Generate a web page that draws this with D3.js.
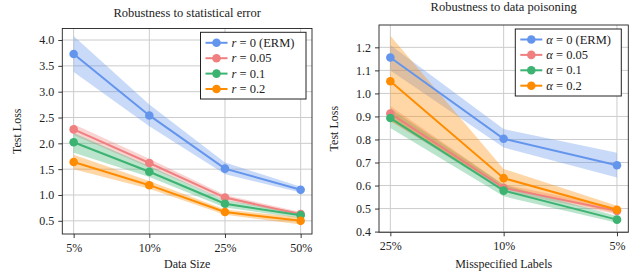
<!DOCTYPE html>
<html><head><meta charset="utf-8">
<script src="https://cdn.jsdelivr.net/npm/d3@7"></script>
<style>
body{margin:0;background:#fff;}
svg{display:block;font-family:"Liberation Serif","DejaVu Serif",serif;}
svg text{font-family:"Liberation Serif","DejaVu Serif",serif;}
</style></head>
<body><svg id="c" width="632" height="273"></svg>
<script>
// ---- data ----
const leftCats = ["5%","10%","25%","50%"];
const leftTicks = [0.5,1.0,1.5,2.0,2.5,3.0,3.5,4.0];
const leftNames = ["0 (ERM)","0.05","0.1","0.2"];
const leftMean = [[3.73,2.54,1.51,1.10],[2.27,1.62,0.95,0.63],[2.02,1.45,0.83,0.61],[1.64,1.19,0.67,0.50]];
const leftLo   = [[3.38,2.33,1.40,1.05],[2.16,1.53,0.90,0.60],[1.82,1.35,0.76,0.55],[1.50,1.12,0.62,0.43]];
const leftHi   = [[4.08,2.75,1.63,1.16],[2.37,1.70,1.00,0.67],[2.20,1.56,0.90,0.66],[1.78,1.27,0.72,0.57]];

const rightCats = ["25%","10%","5%"];
const rightTicks = [0.4,0.5,0.6,0.7,0.8,0.9,1.0,1.1,1.2];
const rightNames = ["0 (ERM)","0.05","0.1","0.2"];
const rightMean = [[1.156,0.803,0.688],[0.913,0.590,0.490],[0.893,0.578,0.452],[1.053,0.632,0.495]];
const rightLo   = [[1.10,0.765,0.635],[0.88,0.575,0.475],[0.85,0.553,0.438],[0.88,0.590,0.480]];
const rightHi   = [[1.21,0.845,0.742],[0.945,0.605,0.505],[0.935,0.603,0.468],[1.25,0.672,0.512]];

const colors = ["#6495ED","#F08080","#3CB371","#FF8C00"];

const svg = d3.select("#c");
const FONT = "Liberation Serif";

function panel(cfg){
  const {x0,x1,y0,y1,cats,ticks,tickFmt,dom,mean,lo,hi,names,sym,title,titleY,xlabel,legend,pad} = cfg;
  const x = d3.scalePoint().domain(cats).range([x0,x1]).padding(pad);
  const y = d3.scaleLinear().domain(dom).range([y1,y0]);
  const g = svg.append("g");
  // grid
  g.selectAll(".gy").data(ticks).enter().append("line")
    .attr("x1",x0).attr("x2",x1).attr("y1",d=>y(d)).attr("y2",d=>y(d))
    .attr("stroke","#cccccc").attr("stroke-width",1);
  g.selectAll(".gx").data(cats).enter().append("line")
    .attr("x1",d=>x(d)).attr("x2",d=>x(d)).attr("y1",y0).attr("y2",y1)
    .attr("stroke","#cccccc").attr("stroke-width",1);
  // bands
  mean.forEach((m,i)=>{
    const area = d3.area().x((d,j)=>x(cats[j])).y0((d,j)=>y(lo[i][j])).y1((d,j)=>y(hi[i][j]));
    g.append("path").attr("d",area(m)).attr("fill",colors[i]).attr("fill-opacity",0.35);
  });
  // lines
  mean.forEach((m,i)=>{
    const line = d3.line().x((d,j)=>x(cats[j])).y(d=>y(d));
    g.append("path").attr("d",line(m)).attr("fill","none").attr("stroke",colors[i]).attr("stroke-width",2);
    g.selectAll(null).data(m).enter().append("circle")
      .attr("cx",(d,j)=>x(cats[j])).attr("cy",d=>y(d)).attr("r",4.3).attr("fill",colors[i]);
  });
  // axes
  const ax = g.append("g").attr("transform",`translate(0,${y1})`).call(d3.axisBottom(x).tickSize(4).tickPadding(5));
  const ay = g.append("g").attr("transform",`translate(${x0},0)`).call(d3.axisLeft(y).tickValues(ticks).tickFormat(tickFmt).tickSize(4).tickPadding(4));
  [ax,ay].forEach(a=>{a.attr("font-family",FONT); a.select(".domain").remove(); a.selectAll("text").attr("font-size",12).attr("fill","#222"); a.selectAll("line").attr("stroke","#222").attr("stroke-width",0.9);});
  g.append("rect").attr("x",x0).attr("y",y0).attr("width",x1-x0).attr("height",y1-y0)
    .attr("fill","none").attr("stroke","#222").attr("stroke-width",0.9);
  // title & labels
  g.append("text").attr("x",(x0+x1)/2).attr("y",titleY).attr("text-anchor","middle").attr("font-size",12.5).attr("fill","#222").text(title);
  g.append("text").attr("x",(x0+x1)/2).attr("y",268).attr("text-anchor","middle").attr("font-size",12).attr("fill","#222").text(xlabel);
  g.append("text").attr("transform",`translate(${x0-41},${(y0+y1)/2}) rotate(-90)`).attr("text-anchor","middle").attr("font-size",12).attr("fill","#222").text("Test Loss");
  // legend
  const L = legend;
  g.append("rect").attr("x",L.x).attr("y",L.y).attr("width",L.w).attr("height",L.h)
    .attr("fill","#fff").attr("stroke","#222").attr("stroke-width",1);
  names.forEach((n,i)=>{
    const yy = L.y + 10.5 + i*15.4;
    g.append("line").attr("x1",L.x+5).attr("x2",L.x+27).attr("y1",yy).attr("y2",yy).attr("stroke",colors[i]).attr("stroke-width",2);
    g.append("circle").attr("cx",L.x+16).attr("cy",yy).attr("r",4.3).attr("fill",colors[i]);
    const t = g.append("text").attr("x",L.x+31).attr("y",yy+4).attr("font-size",12.5).attr("fill","#222");
    t.append("tspan").attr("font-style","italic").text(sym);
    t.append("tspan").text(" = "+n);
  });
}

panel({x0:62.3,x1:312,y0:28.5,y1:234,cats:leftCats,ticks:leftTicks,tickFmt:d3.format(".1f"),
  dom:[0.245,4.223],mean:leftMean,lo:leftLo,hi:leftHi,names:leftNames,sym:"r",
  title:"Robustness to statistical error",titleY:17,xlabel:"Data Size",
  legend:{x:200.5,y:32.3,w:105.5,h:66.7},pad:0.15});
panel({x0:379,x1:628.3,y0:25,y1:232.3,cats:rightCats,ticks:rightTicks,tickFmt:d3.format(".1f"),
  dom:[0.397,1.297],mean:rightMean,lo:rightLo,hi:rightHi,names:rightNames,sym:"α",
  title:"Robustness to data poisoning",titleY:11,xlabel:"Misspecified Labels",
  legend:{x:515.3,y:29,w:106,h:67},pad:0.1});
</script></body></html>
